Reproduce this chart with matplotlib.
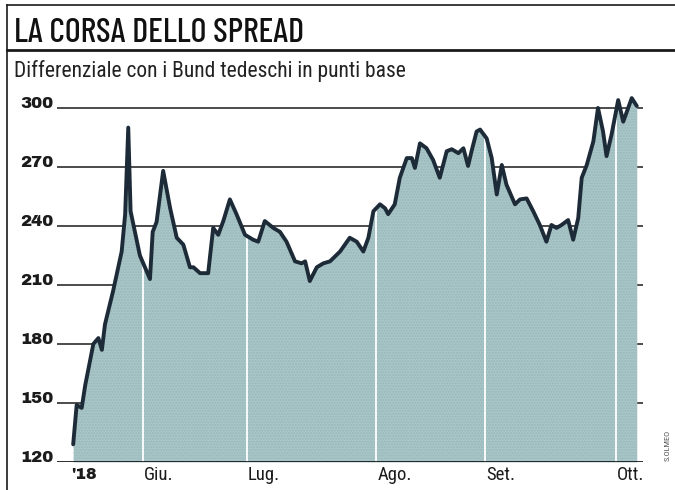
import matplotlib
matplotlib.use("Agg")
import matplotlib.pyplot as plt
from matplotlib.lines import Line2D
import matplotlib.transforms as mtransforms

# --- dati ---
giorni = [0.3, 1.2, 2.5, 3.4, 5.5, 6.8, 7.7, 8.5, 10.6, 12.8,
          13.7, 14.5, 15.1, 17.5, 18.8, 20.1, 20.8, 21.8, 23.5, 25.3,
          27.0, 28.7, 30.4, 31.3, 33.0, 35.1, 36.4, 37.7, 39.0, 40.7,
          42.4, 44.6, 46.7, 48.0, 49.7, 51.9, 53.6, 55.3, 57.5, 59.2,
          60.1, 61.3, 63.1, 64.8, 66.5, 69.1, 71.6, 73.4, 75.1, 76.4,
          77.7, 79.4, 80.7, 81.5, 83.2, 84.5, 86.3, 87.6, 88.4, 89.7,
          91.4, 93.1, 94.8, 96.6, 97.9, 99.6, 100.9, 102.1, 103.0, 104.3,
          105.2, 106.9, 108.2, 109.5, 110.8, 112.0, 114.2, 115.5, 117.2, 118.9,
          120.6, 122.3, 123.6, 124.9, 126.2, 127.9, 129.2, 130.5, 131.4, 132.7,
          134.4, 135.6, 136.9, 137.8, 139.1, 140.8, 142.1, 144.3, 145.6]
spread = [129, 149, 147.5, 159, 180, 183, 177, 190, 207, 227,
          246, 290, 247.5, 225, 219, 213, 237, 242, 268, 249,
          234, 230.5, 219, 219, 216, 216, 239, 235.5, 242.5, 253.5,
          246, 235.5, 233, 232, 242.5, 239, 237, 232, 222, 221,
          222, 212, 219, 221, 222, 227, 234, 232, 227, 234,
          247.5, 251, 249, 246, 251, 264.5, 274.5, 274.5, 269.5, 282,
          279.5, 273.5, 264.5, 278, 279, 277, 279.5, 270.5, 278, 288,
          289, 284.5, 274.5, 256, 271, 261, 251, 253.5, 254, 247.5,
          240.5, 232, 240.5, 239, 240.5, 243, 233, 244, 264.5, 271,
          283, 300, 288, 275.5, 286.5, 304, 293, 305, 301]

mesi = ["Giu.", "Lug.", "Ago.", "Set.", "Ott."]
inizio_mesi = [18.3, 45.1, 78.4, 106.4, 140.2]
yticks = [120, 150, 180, 210, 240, 270, 300]

TITLE_FONT = ["Barlow Condensed", "Roboto Condensed", "DejaVu Sans"]
NARROW = ["Roboto Condensed", "PT Sans Narrow", "DejaVu Sans"]
HEAVY = ["Archivo Black", "Liberation Sans", "DejaVu Sans"]
INK = "#1b1b1b"

fig = plt.figure(figsize=(6.75, 4.9), dpi=100)
fig.patch.set_facecolor("white")

W, H = 675.0, 490.0
ax = fig.add_axes([57 / W, (H - 462) / H, (643 - 57) / W, 369.8 / H])
ax.set_xlim(-3.87, 147.2)
ax.set_ylim(120, 308)
ax.axis("off")

# griglia orizzontale (dietro l'area)
for v in yticks[1:]:
    ax.axhline(v, color=INK, lw=1.1, zorder=1)

# area con retino
poly = ax.fill_between(giorni, spread, 120, color="#a9c6c8", lw=0, zorder=2)
ax.fill_between(giorni, spread, 120, facecolor="none", edgecolor="#7c9a9e",
                hatch="......", lw=0, zorder=2.1, alpha=0.35)

# linee bianche di inizio mese, solo dentro l'area
clip = poly.get_paths()[0]
for x in inizio_mesi:
    ln = ax.axvline(x, color="white", lw=1.3, zorder=3)
    ln.set_clip_path(clip, ax.transData)

ax.plot(giorni, spread, color="#1d2b38", lw=2.8, solid_joinstyle="round",
        solid_capstyle="round", zorder=4)
ax.axhline(120, color=INK, lw=2, zorder=5)

# etichette asse y
trans_y = mtransforms.blended_transform_factory(ax.transAxes, ax.transData)
for v in yticks:
    ax.text(-0.006, v, str(v), transform=trans_y, ha="right", va="baseline",
            fontsize=12, family=HEAVY, color=INK)

# etichette asse x
trans_x = mtransforms.blended_transform_factory(ax.transData, ax.transAxes)
ax.text(giorni[0] - 0.6, -0.014, "'18", transform=trans_x, ha="left", va="top",
        fontsize=11.5, family=HEAVY, color=INK)
for m, x in zip(mesi, inizio_mesi):
    ax.text(x + 0.3, -0.012, m, transform=trans_x, ha="left", va="top",
            fontsize=13.5, family=NARROW, color=INK)

# titolo e sottotitolo
fig.text(14 / W, 1 - 42 / H, "LA CORSA DELLO SPREAD", ha="left", va="baseline",
         fontsize=24.5, fontweight="medium", family=TITLE_FONT, color="#111111")
fig.text(14 / W, 1 - 77 / H, "Differenziale con i Bund tedeschi in punti base",
         ha="left", va="baseline", fontsize=15.5, family=NARROW, color="#222222")

# cornice
fig.add_artist(Line2D([7 / W, 1], [1 - 5 / H, 1 - 5 / H], color=INK, lw=1.2))
fig.add_artist(Line2D([7 / W, 1], [1 - 50 / H, 1 - 50 / H], color=INK, lw=2))
fig.add_artist(Line2D([7 / W, 7 / W], [0, 1 - 5 / H], color=INK, lw=1.2))

fig.text(668 / W, 1 - 445 / H, "S.OLMEO", rotation=90, ha="center", va="center",
         fontsize=6, family=NARROW, color="#555555")

fig.savefig("out.png", dpi=100, facecolor="white")
